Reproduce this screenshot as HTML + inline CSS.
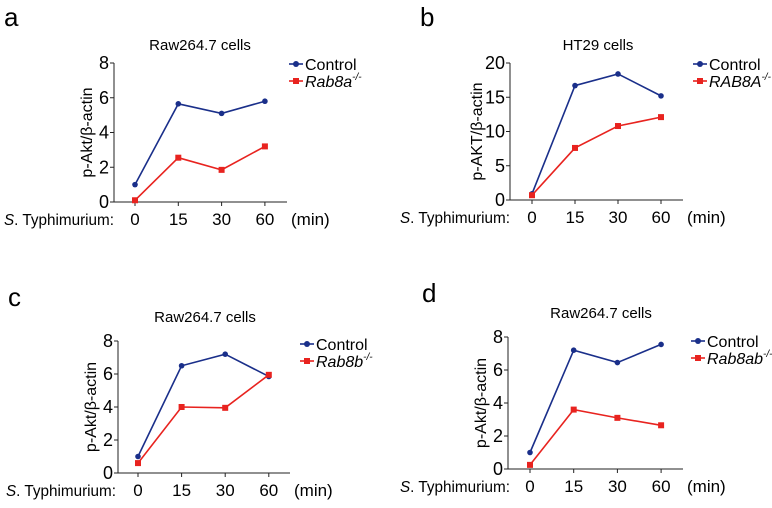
<!DOCTYPE html>
<html><head><meta charset="utf-8"><style>
body{margin:0;background:#fff;}
svg{display:block;font-family:"Liberation Sans",Arial,sans-serif;}
</style></head><body>
<svg id="fig" width="772" height="508" viewBox="0 0 772 508"></svg>
<script>
const xCategories = ["0","15","30","60"];
const controlA = [1.0,5.65,5.1,5.8];
const knockoutA = [0.1,2.55,1.85,3.2];
const controlB = [0.9,16.7,18.4,15.2];
const knockoutB = [0.7,7.6,10.8,12.1];
const controlC = [1.0,6.5,7.2,5.85];
const knockoutC = [0.6,4.0,3.95,5.95];
const controlD = [1.0,7.2,6.45,7.55];
const knockoutD = [0.25,3.6,3.1,2.65];
const ticksA = [0,2,4,6,8];
const ticksB = [0,5,10,15,20];
const ticksC = [0,2,4,6,8];
const ticksD = [0,2,4,6,8];

const NS="http://www.w3.org/2000/svg";
const svg=document.getElementById('fig');
function el(tag,attrs,parent,text){const e=document.createElementNS(NS,tag);for(const k in attrs)e.setAttribute(k,attrs[k]);if(text!==undefined)e.textContent=text;(parent||svg).appendChild(e);return e;}

const panels=[
 {id:'a',letter:'a',lx:4,ly:26,title:'Raw264.7 cells',tx:200,ty:50,ax:114,ax2:287,y0:202,y1:63,ymax:8,ticks:ticksA,px0:135,pdx:43.3,ctrl:controlA,ko:knockoutA,ylabel:'p-Akt/β-actin',yl:92,leg:289,legy:64,ko_name:'Rab8a',sx:4,tly:225},
 {id:'b',letter:'b',lx:420,ly:26,title:'HT29 cells',tx:598,ty:50,ax:510,ax2:683,y0:200,y1:63,ymax:20,ticks:ticksB,px0:532,pdx:43,ctrl:controlB,ko:knockoutB,ylabel:'p-AKT/β-actin',yl:482,leg:693,legy:64,ko_name:'RAB8A',sx:400,tly:223},
 {id:'c',letter:'c',lx:8,ly:306,title:'Raw264.7 cells',tx:205,ty:322,ax:118,ax2:290,y0:473,y1:341,ymax:8,ticks:ticksC,px0:138,pdx:43.6,ctrl:controlC,ko:knockoutC,ylabel:'p-Akt/β-actin',yl:96,leg:300,legy:344,ko_name:'Rab8b',sx:6,tly:496},
 {id:'d',letter:'d',lx:422,ly:302,title:'Raw264.7 cells',tx:601,ty:318,ax:508,ax2:683,y0:469,y1:337,ymax:8,ticks:ticksD,px0:530,pdx:43.7,ctrl:controlD,ko:knockoutD,ylabel:'p-Akt/β-actin',yl:486,leg:691,legy:341,ko_name:'Rab8ab',sx:400,tly:492}
];

panels.forEach(p=>{
 const g=el('g',{});
 
 
 const yS=v=>p.y0-(v/p.ymax)*(p.y0-p.y1);
 const xS=i=>p.px0+i*p.pdx;
 let t=el('text',{x:p.lx,y:p.ly,'font-size':26},g,p.letter);
 
 
 t=el('text',{x:p.tx,y:p.ty,'font-size':15,'text-anchor':'middle'},g,p.title);
 
 
 let ax=el('path',{d:`M${p.ax} ${p.y1}V${p.y0}H${p.ax2}`,stroke:'#222','stroke-width':1,fill:'none'},g);
 
 
 p.ticks.forEach(v=>{
  el('line',{x1:p.ax-4,x2:p.ax,y1:yS(v),y2:yS(v),stroke:'#222'},g);
  const tl=el('text',{x:p.ax-5,y:yS(v)+6,'font-size':18,'text-anchor':'end'},g,String(v));
  
  
 });
 xCategories.forEach((c,i)=>{
  el('line',{x1:xS(i),x2:xS(i),y1:p.y0,y2:p.y0+4,stroke:'#222'},g);
  const tl=el('text',{x:xS(i),y:p.tly,'font-size':17,'text-anchor':'middle'},g,c);
  
  
 });
 const mn=el('text',{x:p.ax2+4,y:p.tly,'font-size':17},g,'(min)');
 
 
 const st=el('text',{x:p.sx,y:p.tly,'font-size':16,textLength:110,lengthAdjust:'spacingAndGlyphs'},g);
 
 
 el('tspan',{'font-style':'italic'},st,'S');
 el('tspan',{},st,'. Typhimurium:');
 const yl=el('text',{transform:`translate(${p.yl},${(p.y0+p.y1)/2}) rotate(-90)`,'font-size':16,'text-anchor':'middle'},g,p.ylabel);
 
 
 [[p.ctrl,'#1a2f8a','circle','control'],[p.ko,'#e8231f','square','knockout']].forEach(([arr,col,mk,nm])=>{
  const ln=el('polyline',{points:arr.map((v,i)=>xS(i)+','+yS(v)).join(' '),stroke:col,'stroke-width':1.6,fill:'none'},g);
  
  
  arr.forEach((v,i)=>{
   let m;
   if(mk==='circle') m=el('circle',{cx:xS(i),cy:yS(v),r:2.8,fill:col},g);
   else m=el('rect',{x:xS(i)-3,y:yS(v)-3,width:6,height:6,fill:col},g);
   
   
  });
 });
 const lg=el('g',{},g);
 
 
 el('line',{x1:p.leg,x2:p.leg+14,y1:p.legy,y2:p.legy,stroke:'#1a2f8a','stroke-width':1.6},lg);
 el('circle',{cx:p.leg+7,cy:p.legy,r:3,fill:'#1a2f8a'},lg);
 el('text',{x:p.leg+16,y:p.legy+6,'font-size':16},lg,'Control');
 el('line',{x1:p.leg,x2:p.leg+14,y1:p.legy+17,y2:p.legy+17,stroke:'#e8231f','stroke-width':1.6},lg);
 el('rect',{x:p.leg+4,y:p.legy+14,width:6,height:6,fill:'#e8231f'},lg);
 const kt=el('text',{x:p.leg+16,y:p.legy+23,'font-size':16,'font-style':'italic'},lg,p.ko_name);
 el('tspan',{'font-size':10,dy:-7},kt,'-/-');
});
</script>
</body></html>
